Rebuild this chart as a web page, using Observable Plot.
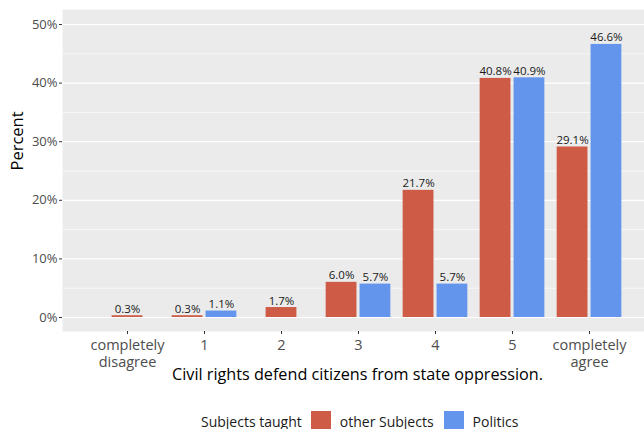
<!DOCTYPE html>
<html>
<head>
<meta charset="utf-8">
<script src="https://cdn.jsdelivr.net/npm/d3@7"></script>
<script src="https://cdn.jsdelivr.net/npm/@observablehq/plot@0.6"></script>
<style>
  body { margin: 0; background: white; font-family: "Open Sans", sans-serif; }
  #chart svg { display: block; }
  #legend { display: flex; align-items: center; height: 20px; padding-top: 11px; padding-left: 201px; font-size: 14px; color: #1a1a1a; }
  #legend .sw { width: 20px; height: 20px; display: inline-block; }
</style>
</head>
<body>
<div id="chart"></div>
<div id="legend"></div>
<script>
const categories = ["completely\ndisagree", "1", "2", "3", "4", "5", "completely\nagree"];
const subjects = ["other Subjects", "Politics"];
const otherSubjects = [0.3, 0.3, 1.7, 6.0, 21.7, 40.8, 29.1];
const politics = [null, 1.1, null, 5.7, 5.7, 40.9, 46.6];
const colors = ["#CD5B45", "#6495ED"];
const majorTicks = [0, 10, 20, 30, 40, 50];
const minorTicks = [5, 15, 25, 35, 45];
const xTitle = "Civil rights defend citizens from state oppression.";
const yTitle = "Percent";
const legendTitle = "Subjects taught";

// build table (dodge with preserve="single": a lone bar is centred)
const rows = [];
categories.forEach((c, i) => {
  const vals = [otherSubjects[i], politics[i]];
  const present = vals.filter(v => v != null).length;
  vals.forEach((v, j) => {
    if (v == null) return;
    const off = present === 2 ? (j === 0 ? -0.22 : 0.22) : 0;
    rows.push({cat: i, subject: subjects[j], value: v, pos: i + off});
  });
});
const half = 0.2;

const plot = Plot.plot({
  width: 644,
  height: 400,
  marginLeft: 62,
  marginRight: 0,
  marginTop: 9,
  marginBottom: 69,
  style: {fontFamily: "'Open Sans', sans-serif", background: "white"},
  x: {type: "linear", domain: [-0.844, 6.714]},
  y: {domain: [-2.39, 52.56]},
  color: {domain: subjects, range: colors},
  marks: [
    Plot.frame({fill: "#EBEBEB", stroke: null}),
    Plot.ruleY(minorTicks, {stroke: "white", strokeWidth: 0.6}),
    Plot.ruleY(majorTicks, {stroke: "white", strokeWidth: 1.2}),
    Plot.rect(rows, {x1: d => d.pos - half, x2: d => d.pos + half, y1: 0, y2: "value", fill: "subject"}),
    Plot.text(rows, {x: "pos", y: "value", text: d => d.value.toFixed(1) + "%", lineAnchor: "bottom", dy: -3, fontSize: 11.5, fill: "#1a1a1a"}),
    Plot.axisY({ticks: majorTicks, tickFormat: d => d + "%", tickSize: 3, tickPadding: 2, fontSize: 13, stroke: "#333", fill: "#4D4D4D", label: null}),
    Plot.axisX({ticks: d3.range(categories.length), tickFormat: i => categories[i], tickSize: 3, tickPadding: 3, fontSize: 14.5, lineHeight: 1.2, stroke: "#333", fill: "#4D4D4D", label: null}),
    Plot.text([yTitle], {frameAnchor: "left", dx: -45, rotate: -90, fontSize: 16.5, fill: "black"}),
    Plot.text([xTitle], {frameAnchor: "bottom", dx: 4, dy: 48, fontSize: 16.2, fill: "black"})
  ]
});
document.getElementById("chart").appendChild(plot);

const legend = document.getElementById("legend");
const t = document.createElement("span");
t.textContent = legendTitle;
t.style.marginRight = "9px";
legend.appendChild(t);
subjects.forEach((s, j) => {
  const sw = document.createElement("span");
  sw.className = "sw";
  sw.style.background = colors[j];
  sw.style.marginRight = "9px";
  legend.appendChild(sw);
  const l = document.createElement("span");
  l.textContent = s;
  l.style.marginRight = "10px";
  legend.appendChild(l);
});
</script>
</body>
</html>
